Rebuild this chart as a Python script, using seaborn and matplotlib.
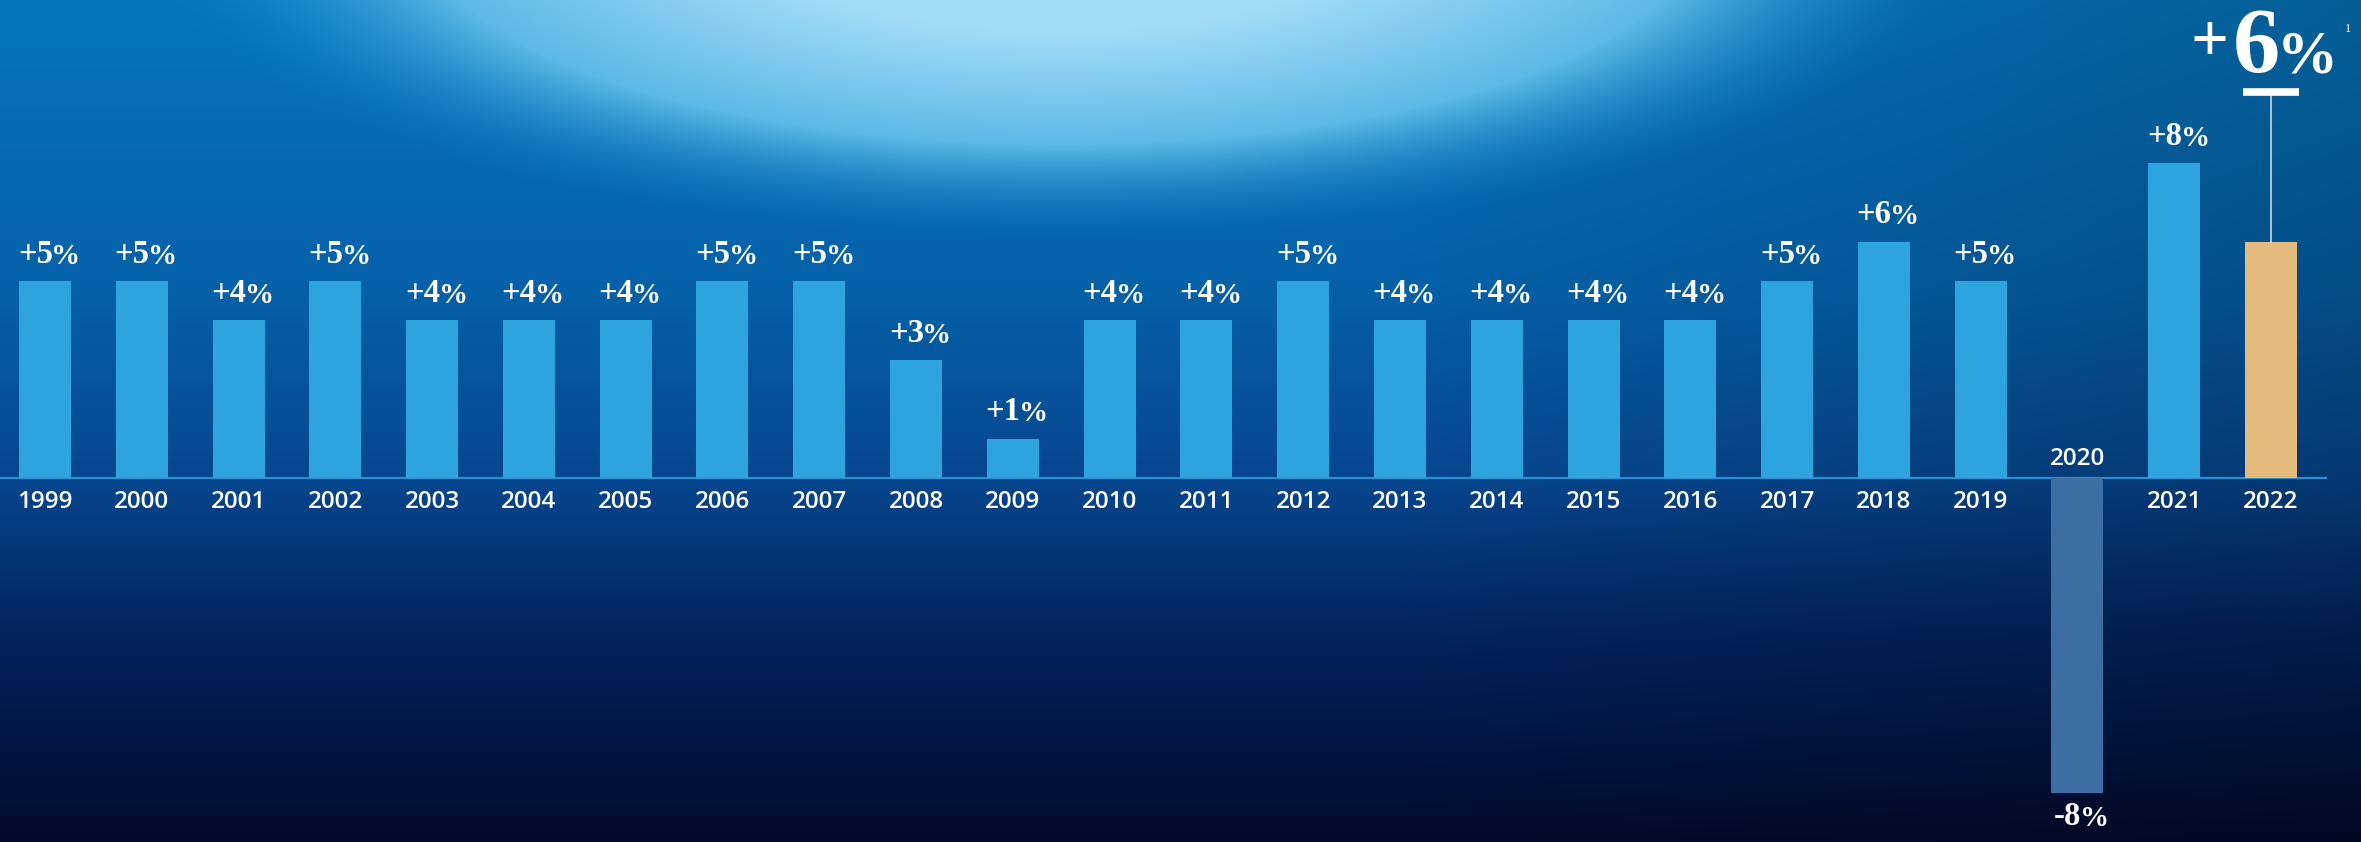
import numpy as np
import pandas as pd
import seaborn as sns
import matplotlib.pyplot as plt
from matplotlib.colors import to_rgb

# growth per year, %
years = ["1999", "2000", "2001", "2002", "2003", "2004", "2005", "2006", "2007", "2008",
         "2009", "2010", "2011", "2012", "2013", "2014", "2015", "2016", "2017", "2018",
         "2019", "2020", "2021", "2022"]
growth = [5, 5, 4, 5, 4, 4, 4, 5, 5, 3,
          1, 4, 4, 5, 4, 4, 4, 4, 5, 6,
          5, -8, 8, 6]
headline = "6"

df = pd.DataFrame({"year": years, "growth": growth})

bar_blue = "#2ea4de"
colors = {y: bar_blue for y in years}
colors["2020"] = "#3d6ea3"
colors["2022"] = "#e4bb7c"

W, H = 2361, 842
fig = plt.figure(figsize=(W / 100, H / 100), dpi=100)
ax = fig.add_axes([0, 0, 1, 1])

xmin, xmax = -0.465, 23.93
ymin, ymax = -9.24, 12.13

# background: vertical gradient + soft bowl of light at the top
yy, xx = np.mgrid[0:H, 0:W]
t = yy / H
stops = [0.0, 0.35, 0.57, 0.75, 1.0]
cols = [to_rgb(c) for c in ["#0576bc", "#0560a8", "#07468e", "#03245e", "#010a2c"]]
bg = np.zeros((H, W, 3))
for ch in range(3):
    bg[..., ch] = np.interp(t, stops, [c[ch] for c in cols])
dim = 1 - 0.2 * np.clip((xx - 1400) / 961, 0, 1)
bg = bg * dim[..., None]
d = np.sqrt(((xx - 1060) / 920) ** 2 + ((yy + 80) / 320) ** 2)
g = np.clip(1 - d, 0, 1)
edge = np.array(to_rgb("#1896d4"))
centre = np.array(to_rgb("#a2dcf7"))
w = np.clip(g / 0.65, 0, 1)[..., None] ** 0.9
glow = edge * (1 - w) + centre * w
a = np.clip(g / 0.3, 0, 1)[..., None] ** 1.3
bg = bg * (1 - a) + glow * a
ax.imshow(bg, extent=(xmin, xmax, ymin, ymax), aspect="auto", zorder=-2)

sns.barplot(data=df, x="year", y="growth", hue="year", palette=colors,
            width=0.537, legend=False, saturation=1, ax=ax, zorder=2)

ax.plot([xmin, 23.57], [0, 0], color="#2a8fd0", lw=1.6, zorder=1)

ax.set_xlim(xmin, xmax)
ax.set_ylim(ymin, ymax)
ax.axis("off")

serif = "Liberation Serif"
sans = "Open Sans"
last = len(years) - 1

for i, (yr, v) in enumerate(zip(years, growth)):
    if i != last:
        if v >= 0:
            t1 = ax.annotate(f"+{v}", xy=(i, v), xytext=(-7, 8), textcoords="offset points",
                             ha="center", va="bottom", fontsize=23.5, fontweight="bold",
                             family=serif, color="white", zorder=4)
        else:
            t1 = ax.annotate(f"-{abs(v)}", xy=(i, v), xytext=(-7, -6), textcoords="offset points",
                             ha="center", va="top", fontsize=23.5, fontweight="bold",
                             family=serif, color="white", zorder=4)
        ax.annotate("%", xy=(1, 0), xycoords=t1, xytext=(-1, 0), textcoords="offset points",
                    ha="left", va="bottom", fontsize=21, fontweight="bold",
                    family=serif, color="white", zorder=4)
    if v >= 0:
        ax.annotate(yr, xy=(i, 0), xytext=(0, -9), textcoords="offset points",
                    ha="center", va="top", fontsize=17.5, fontweight="semibold",
                    family=sans, color="white", zorder=4)
    else:
        ax.annotate(yr, xy=(i, 0), xytext=(0, 5), textcoords="offset points",
                    ha="center", va="bottom", fontsize=17.5, fontweight="semibold",
                    family=sans, color="white", zorder=4)

# headline for the last year
ax.text(23.09, 10.30, headline, ha="right", va="baseline", fontsize=68,
        fontweight="bold", family=serif, color="white", zorder=4)
ax.text(22.36, 11.0, "+", ha="center", va="center", fontsize=48,
        fontweight="bold", family=serif, color="white", zorder=4)
ax.text(23.06, 10.30, "%", ha="left", va="baseline", fontsize=44,
        fontweight="bold", family=serif, color="white", zorder=4)
ax.text(23.76, 11.55, "1", ha="left", va="top", fontsize=9,
        family=serif, color="white", zorder=4)
ax.plot([last - 0.29, last + 0.29], [9.8, 9.8], color="white", lw=5.5,
        solid_capstyle="butt", zorder=4)
ax.plot([last, last], [9.8, growth[last]], color="white", lw=1.1, alpha=0.85, zorder=3)

fig.savefig("out.png", dpi=100)
